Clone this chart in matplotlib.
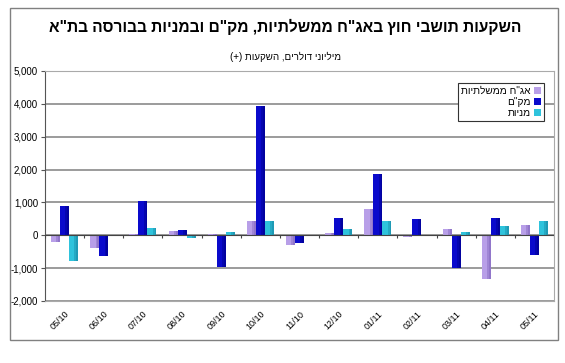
import numpy as np
import matplotlib
matplotlib.use('Agg')
import matplotlib.pyplot as plt
from matplotlib.patches import Rectangle

plt.rcParams['font.family'] = ['Liberation Sans', 'DejaVu Sans']

# -------------------------------------------------------
# data (millions of USD)
# -------------------------------------------------------
months = ['05/10', '06/10', '07/10', '08/10', '09/10', '10/10', '11/10',
          '12/10', '01/11', '02/11', '03/11', '04/11', '05/11']
gov_bonds = [-210, -380, 30, 140, 25, 440, -300, 70, 790, -60, 200, -1340, 310]
makam     = [900, -620, 1030, 160, -950, 3930, -220, 520, 1860, 500, -1000, 520, -600]
stocks    = [-790, 0, 220, -80, 100, 440, 0, 190, 430, 0, 100, 270, 430]

names  = ['אג"ח ממשלתיות', 'מק"ם', 'מניות']
colors = ['#B89FE8', '#0A0ACC', '#2FC3DC']
shades = ['#8468C0', '#000090', '#1A8CA8']

title = 'השקעות תושבי חוץ באג"ח ממשלתיות, מק"ם ובמניות בבורסה בת"א'
subtitle = 'מיליוני דולרים, השקעות (+)'


def rtl(s):
    # matplotlib has no bidi -> reverse and mirror brackets
    swap = {'(': ')', ')': '('}
    return ''.join(swap.get(c, c) for c in s[::-1])


fig = plt.figure(figsize=(5.65, 3.63), dpi=100)
fig.patches.append(Rectangle((10 / 565, 1 - 340 / 363), 548 / 565, 332 / 363,
                             transform=fig.transFigure, fill=False,
                             edgecolor='#808080', lw=1.0))

ax = fig.add_axes([45 / 565, 1 - 301 / 363, 509 / 565, 230 / 363])

x = np.arange(len(months))
w = 0.23
for i, vals in enumerate([gov_bonds, makam, stocks]):
    pos = x + (i - 1) * w
    ax.bar(pos, vals, w, color=colors[i], label=rtl(names[i]), zorder=3)
    # darker strip on the right side of each bar (excel shading look)
    ax.bar(pos + w * 0.3, vals, w * 0.4, color=shades[i], zorder=3, alpha=0.45)
    ax.bar(pos + w * 0.4, vals, w * 0.2, color=shades[i], zorder=3, alpha=0.5)

ax.set_ylim(-2000, 5000)
ax.set_xlim(-0.5, len(months) - 0.5)
ax.set_yticks(np.arange(-2000, 5001, 1000))
ax.set_yticklabels([f'{v:,}' for v in range(-2000, 5001, 1000)], fontsize=7)
ax.yaxis.grid(True, color='#808080', lw=1.1, zorder=0)
ax.tick_params(axis='y', length=3, pad=2, color='#555555')

ax.set_xticks(x)
ax.set_xticklabels(months, rotation=45, ha='right', rotation_mode='anchor', fontsize=6.5)
ax.tick_params(axis='x', length=0, pad=6)

ax.axhline(0, color='#444444', lw=0.8, zorder=4)
ax.vlines(np.arange(len(months) + 1) - 0.5, -90, 0, color='#444444', lw=0.8, zorder=4)

for sp in ['top', 'right', 'bottom']:
    ax.spines[sp].set_color('#AAAAAA')
ax.spines['left'].set_color('#555555')

leg = ax.legend(loc='upper right', bbox_to_anchor=(0.9805, 0.948), fontsize=7.3,
                markerfirst=False, frameon=True, fancybox=False, handlelength=0.7,
                handleheight=0.7, handletextpad=0.3, borderpad=0.3, labelspacing=0.12,
                borderaxespad=0, framealpha=1)
leg.get_frame().set_edgecolor('#333333')
leg.get_frame().set_linewidth(0.8)

fig.text(0.505, 1 - 27 / 363, rtl(title), ha='center', va='center',
         fontsize=11.2, fontweight='bold')
fig.text(0.505, 1 - 57 / 363, rtl(subtitle), ha='center', va='center', fontsize=7)

fig.savefig('out.png', dpi=100)
